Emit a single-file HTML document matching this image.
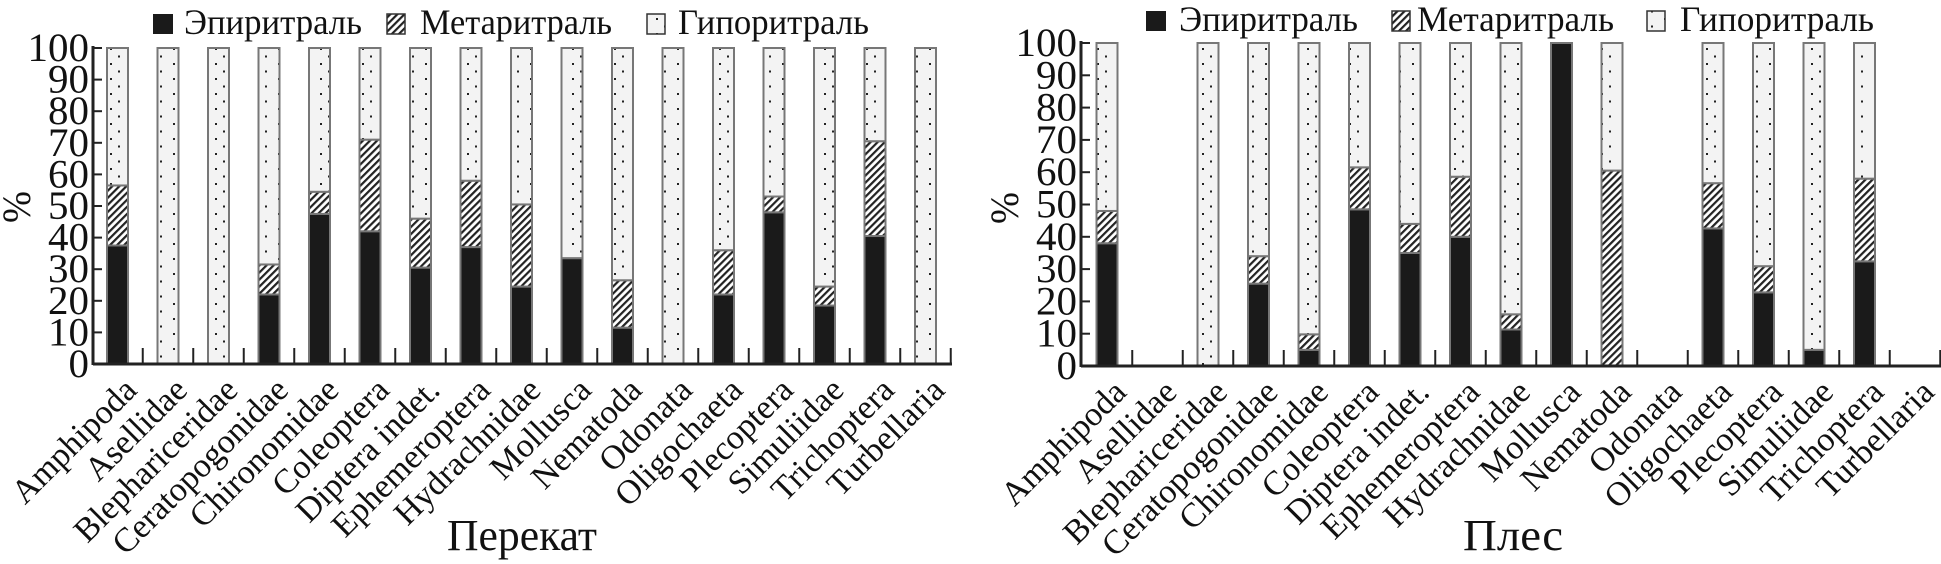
<!DOCTYPE html>
<html><head><meta charset="utf-8"><style>
html,body{margin:0;padding:0;background:#fff}
svg{display:block}
text{font-family:"Liberation Serif",serif;fill:#111}
</style></head><body>
<svg id="chart" width="1941" height="564" viewBox="0 0 1941 564" xmlns="http://www.w3.org/2000/svg">
<defs>
<pattern id="hatch" patternUnits="userSpaceOnUse" width="5" height="5" patternTransform="rotate(45)">
<rect width="5" height="5" fill="#fff"/><rect x="0" y="0" width="2.2" height="5" fill="#222"/>
</pattern>
<pattern id="dots" patternUnits="userSpaceOnUse" width="21" height="15">
<rect width="21" height="15" fill="#f3f3f3"/><rect x="5" y="3" width="2" height="2" fill="#222"/><rect x="13" y="10.5" width="2" height="2" fill="#222"/>
</pattern>
</defs>
<g id="left"></g>
<g id="right"></g>
</svg>
<script>
const categories = ["Amphipoda","Asellidae","Blephariceridae","Ceratopogonidae","Chironomidae","Coleoptera","Diptera indet.","Ephemeroptera","Hydrachnidae","Mollusca","Nematoda","Odonata","Oligochaeta","Plecoptera","Simuliidae","Trichoptera","Turbellaria"];
const yTicks = [0,10,20,30,40,50,60,70,80,90,100];
// Перекат (riffle)
const riffleEpi  = [37.5,0,0,22,47.5,42,30.5,37,24.5,33.5,11.5,0,22,48,18.5,40.5,0];
const riffleMeta = [19,0,0,9.5,7,29,15.5,21,26,0,15,0,14,5,6,30,0];
const riffleHypo = [43.5,100,100,68.5,45.5,29,54,42,49.5,66.5,73.5,100,64,47,75.5,29.5,100];
// Плес (pool)
const poolEpi  = [38,0,0,25.5,5,48.5,35,40,11.3,100,0,0,42.6,22.8,5,32.4,0];
const poolMeta = [10,0,0,8.5,4.8,13,9,18.6,4.7,0,60.5,0,14,8.1,0,25.6,0];
const poolHypo = [52,0,100,66,90.2,38.5,56,41.4,84,0,39.5,0,43.4,69.1,95,42,0];
const legendLabels = ["Эпиритраль","Метаритраль","Гипоритраль"];

const NS="http://www.w3.org/2000/svg";
function mk(tag,attrs,parent){const e=document.createElementNS(NS,tag);for(const k in attrs)e.setAttribute(k,attrs[k]);parent.appendChild(e);return e;}

function drawChart(g, cfg, epi, meta, hypo){
  const yScale = v => cfg.y0 - (cfg.y0-cfg.y100)*v/100;
  const xScale = i => cfg.x0 + i*cfg.step;
  const bw = 21;
  categories.forEach((c,i)=>{
    const segs=[[epi[i],"#1a1a1a","epi"],[meta[i],"url(#hatch)","meta"],[hypo[i],"url(#dots)","hypo"]];
    let base=0;
    segs.forEach(s=>{
      if(s[0]<=0) return;
      const r=mk("rect",{x:xScale(i)-bw/2,y:yScale(base+s[0]),width:bw,height:yScale(base)-yScale(base+s[0]),fill:s[1],stroke:"#777","stroke-width":2},g);
      
      
      base+=s[0];
    });
  });
  const ax=mk("line",{x1:cfg.ax,y1:cfg.y100-2,x2:cfg.ax,y2:cfg.y0+1,stroke:"#222","stroke-width":3},g);
  
  
  const bx=mk("line",{x1:cfg.ax,y1:cfg.y0,x2:cfg.xEnd,y2:cfg.y0,stroke:"#222","stroke-width":3},g);
  
  
  yTicks.forEach(v=>{
    const y=yScale(v);
    const t=mk("line",{x1:cfg.ax,y1:y,x2:cfg.ax+9,y2:y,stroke:"#222","stroke-width":2},g);
    
    
    const s=String(v);
    const tx=mk("text",{x:cfg.ax-4,y:y+13,"font-size":40,"text-anchor":"end",textLength:s.length*20.5,lengthAdjust:"spacingAndGlyphs"},g);
    tx.textContent=s;
    
    
  });
  for(let i=0;i<categories.length;i++){
    const x=xScale(i)+cfg.step/2;
    const t=mk("line",{x1:x,y1:cfg.y0-16,x2:x,y2:cfg.y0,stroke:"#222","stroke-width":2},g);
    
    
  }
  categories.forEach((c,i)=>{
    const x=xScale(i)+21, y=cfg.y0+28;
    const t=mk("text",{x:x,y:y,"font-size":34,"text-anchor":"end",transform:`rotate(-45 ${x} ${y})`},g);
    t.textContent=c;
    
    
  });
  const yl=mk("text",{x:0,y:0,"font-size":40,"text-anchor":"middle",transform:`translate(${cfg.pctX},${cfg.pctY}) rotate(-90)`,textLength:32,lengthAdjust:"spacingAndGlyphs"},g);
  yl.textContent="%";
  
  
  const ti=mk("text",{x:cfg.titleX,y:550,"font-size":44,"text-anchor":"middle",textLength:cfg.titleW,lengthAdjust:"spacingAndGlyphs"},g);
  ti.textContent=cfg.title;
  
  
  const L=cfg.leg;
  const fills=["#1a1a1a","url(#hatch)","url(#dots)"];
  for(let k=0;k<3;k++){
    const b=mk("rect",{x:L.box[k],y:L.y-20,width:k==0?20:18,height:20,fill:fills[k],stroke:"#333","stroke-width":k==0?0:1.5},g);
    
    
    const t=mk("text",{x:L.tx[k],y:L.y,"font-size":36,textLength:L.tw[k],lengthAdjust:"spacingAndGlyphs"},g);
    t.textContent=legendLabels[k];
    
    
  }
}
drawChart(document.getElementById('left'),
  {x0:117.5,step:50.5,ax:93,xEnd:952,y0:364,y100:48,pctX:30,pctY:207,title:"Перекат",titleX:522,titleW:150,
   leg:{y:34,box:[153,387,647],tx:[184,420,678],tw:[178,192,191]}},
  riffleEpi,riffleMeta,riffleHypo);
drawChart(document.getElementById('right'),
  {x0:1107,step:50.5,ax:1081,xEnd:1941,y0:366,y100:43,pctX:1018,pctY:208,title:"Плес",titleX:1513,titleW:100,
   leg:{y:31,box:[1146,1392,1647],tx:[1179,1417,1680],tw:[179,197,194]}},
  poolEpi,poolMeta,poolHypo);
</script>
</body></html>
